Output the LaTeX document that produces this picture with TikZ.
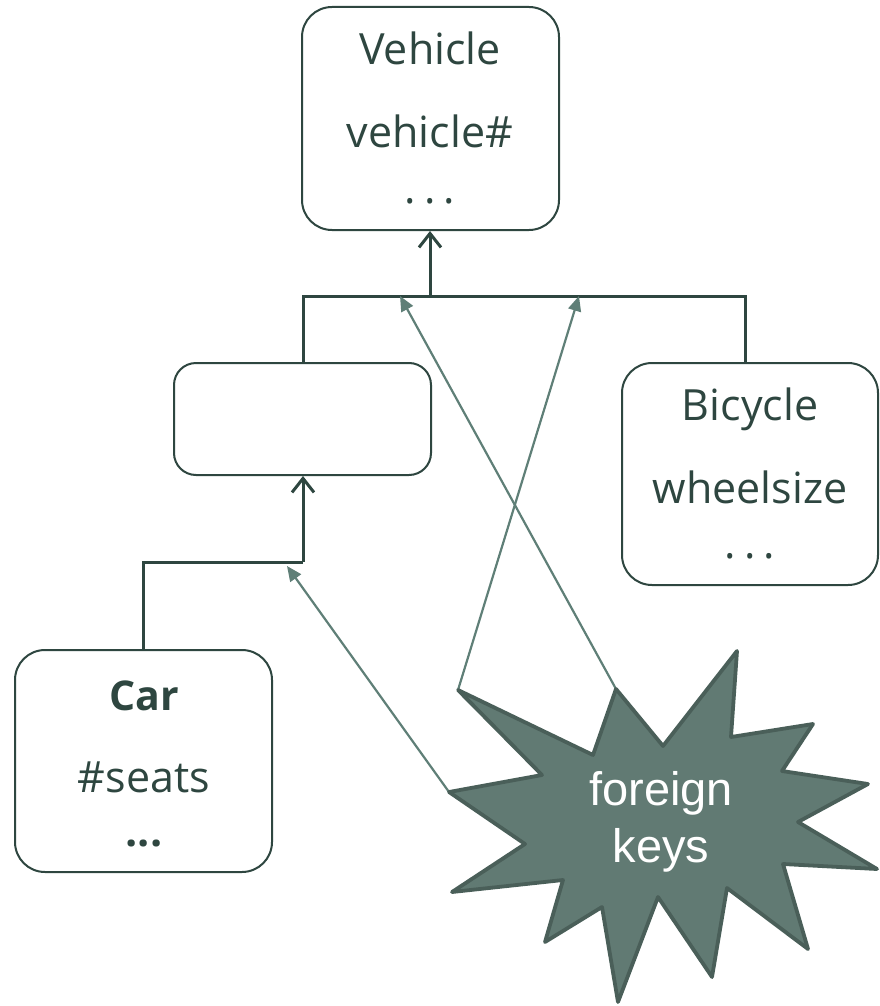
\documentclass[tikz,border=0pt]{standalone}
\usepackage{fontspec}
\setmainfont{Open Sans}
\newfontfamily\fkfont{Liberation Sans}
\usetikzlibrary{arrows.meta}
\definecolor{ink}{HTML}{2E4640}
\definecolor{fk}{HTML}{617A73}
\definecolor{fkedge}{HTML}{4A5F59}
\definecolor{fkline}{HTML}{5F7F77}
\tikzset{
  box/.style={draw=ink, line width=2pt, rounded corners=30pt, fill=white, inner sep=0pt},
  txt/.style={anchor=base, text=ink, inner sep=0pt, font=\fontsize{43}{50}\selectfont},
  isa/.style={draw=ink, line width=3pt, -{Straight Barb[length=14pt,width=22pt,line width=3pt]}},
  link/.style={draw=ink, line width=3pt},
  fkarrow/.style={draw=fkline, line width=2.2pt, -{Triangle[length=15pt,width=13pt]}},
}
\begin{document}
\begin{tikzpicture}[x=1pt,y=-1pt]
\useasboundingbox (0,0) rectangle (880,1006);
% boxes
\node[box, minimum width=257pt, minimum height=223pt] (veh) at (430.5,118.5) {};
\node[box, minimum width=257pt, minimum height=112pt, rounded corners=22pt] (mid) at (302.5,419) {};
\node[box, minimum width=256pt, minimum height=222pt] (bic) at (750,474) {};
\node[box, minimum width=257pt, minimum height=222pt] (car) at (143.5,761) {};
% texts
\node[txt] (vt1) at (430,65) {Vehicle};
\node[txt] (vt2) at (430,147) {vehicle\#};
\node[txt] (vt3) at (430,203) {.\hspace{8pt}.\hspace{8pt}.};
\node[txt] (bt1) at (750,420) {Bicycle};
\node[txt] (bt2) at (750,503) {wheelsize};
\node[txt] (bt3) at (750,558) {.\hspace{8pt}.\hspace{8pt}.};
\node[txt, font=\fontsize{41}{50}\selectfont\bfseries] (ct1) at (144,710) {Car};
\node[txt] (ct2) at (144,792) {\#seats};
\node[txt, font=\fontsize{43}{50}\selectfont\bfseries] (ct3) at (144,846) {...};
% hierarchy connectors
\coordinate (j) at (430,296);
\coordinate (jl) at (303,296);
\coordinate (jr) at (745,296);
\coordinate (cj) at (303,562);
\draw[link] (mid.north -| jl) -- (jl) -- (jr) -- (bic.north -| jr);
\draw[isa] (j) -- (veh.south -| j);
\draw[link] (car.north) |- (cj);
\draw[isa] (cj) -- (mid.south -| cj);
% star points
\coordinate (s1) at (449,792);
\coordinate (s2) at (458,690);
\coordinate (s3) at (616,689);
\coordinate (e1) at (287,566);
\coordinate (e2) at (579,296);
\coordinate (e3) at (400,296);
\draw[fkarrow] (s1) -- (e1);
\draw[fkarrow] (s2) -- (e2);
\draw[fkarrow] (s3) -- (e3);
% star
\draw[fill=fk, draw=fkedge, line width=3.8pt, line join=round]
  (s2) -- (593,755) -- (s3) -- (663,746) -- (737,651) -- (731,737) -- (813,724) -- (782,771)
  -- (868,784) -- (798,822) -- (877,869) -- (783,864) -- (808,949) -- (727,888) -- (712,977)
  -- (658,897) -- (618,1002) -- (602,907) -- (545,942) -- (563,880) -- (452,892) -- (525,844)
  -- (s1) -- (542,775) -- cycle;
\node[text=white, align=center, inner sep=0pt, font=\fkfont\fontsize{47}{57}\selectfont] (fkt) at (661,822) {foreign\\keys};
\end{tikzpicture}
\end{document}
